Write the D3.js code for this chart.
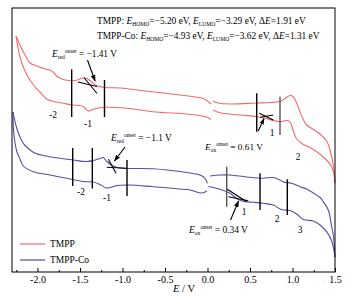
<!DOCTYPE html>
<html><head><meta charset="utf-8">
<script src="https://cdn.jsdelivr.net/npm/d3@7"></script>
<style>body{margin:0;background:#fff}svg{display:block}text{font-family:"Liberation Serif","Times New Roman",serif}</style>
</head><body><svg id="c" width="359" height="303"></svg>
<script>
// ---- data: potential E (V), current (arbitrary units) ----
const tmppRedUpper = [[-2.253,15.4],[-2.206,14.5],[-2.147,13.5],[-2.088,12.7],[-2.009,12.4],[-1.912,12.1],[-1.853,12.0],[-1.818,11.8],[-1.759,11.3],[-1.676,11.0],[-1.559,10.95],[-1.465,11.2],[-1.418,11.15],[-1.371,10.85],[-1.304,10.45],[-1.206,10.25],[-1.029,10.2],[-0.676,9.85],[-0.324,9.5],[-0.147,9.3],[-0.053,9.15],[-0.006,8.95],[0.038,8.6]];
const tmppRedLower = [[-2.253,15.4],[-2.229,14.2],[-2.206,13.3],[-2.167,12.3],[-2.124,11.5],[-2.088,11.0],[-2.029,10.3],[-1.971,9.8],[-1.892,9.1],[-1.814,8.85],[-1.696,8.67],[-1.579,8.5],[-1.5,8.45],[-1.453,8.3],[-1.406,7.9],[-1.344,8.07],[-1.265,8.22],[-1.186,8.27],[-0.951,8.17],[-0.641,7.83],[-0.245,7.6],[-0.088,7.45],[-0.009,7.3],[0.038,7.05]];
const tmppOxUpper = [[0.065,8.9],[0.124,8.7],[0.265,8.6],[0.579,8.7],[0.735,8.75],[0.853,8.85],[0.912,9.15],[0.971,9.45],[1.006,9.35],[1.049,8.7],[1.088,7.8],[1.124,7.1],[1.167,6.5],[1.245,6.05],[1.324,5.6],[1.402,4.9],[1.441,4.0],[1.476,2.7],[1.494,1.5],[1.5,0.7]];
const tmppOxLower = [[0.065,8.0],[0.147,7.73],[0.382,7.5],[0.579,7.33],[0.676,7.17],[0.853,6.83],[0.932,6.95],[0.971,6.8],[1.01,5.9],[1.049,5.1],[1.127,4.55],[1.206,4.25],[1.285,3.83],[1.362,3.3],[1.441,2.6],[1.48,1.9],[1.5,0.7]];
const coRedUpper = [[-2.288,7.8],[-2.245,6.2],[-2.206,5.3],[-2.167,4.67],[-2.088,4.0],[-2.018,3.65],[-1.932,3.45],[-1.735,3.17],[-1.579,3.0],[-1.421,2.85],[-1.344,2.95],[-1.265,3.15],[-1.226,3.25],[-1.186,2.85],[-1.108,2.4],[-1.029,2.2],[-0.912,2.15],[-0.641,2.12],[-0.324,1.85],[-0.206,1.7],[-0.088,1.5],[-0.029,1.17],[-0.002,0.67]];
const coRedLower = [[-2.288,7.8],[-2.282,6.0],[-2.245,3.9],[-2.206,3.1],[-2.167,2.4],[-2.049,1.83],[-1.853,1.5],[-1.656,1.17],[-1.461,0.85],[-1.344,0.8],[-1.265,0.55],[-1.194,0.2],[-1.147,0.25],[-1.068,0.45],[-0.912,0.5],[-0.641,0.33],[-0.324,0.1],[-0.206,0.0],[-0.067,-0.3],[-0.006,-0.1]];
const coOxUpper = [[0.029,1.4],[0.147,1.5],[0.265,1.5],[0.461,1.3],[0.653,1.17],[0.774,1.25],[0.853,1.0],[0.892,0.8],[0.99,0.67],[1.088,0.33],[1.167,0.1],[1.245,-0.3],[1.324,-0.75],[1.362,-1.17],[1.421,-2.0],[1.461,-3.67],[1.48,-4.5],[1.5,-6.7]];
const coOxLower = [[0.009,0.35],[0.147,0.07],[0.265,-0.33],[0.362,-0.95],[0.441,-1.17],[0.539,-1.23],[0.657,-1.33],[0.774,-1.5],[0.853,-1.9],[0.892,-2.0],[0.971,-2.05],[1.049,-2.4],[1.127,-2.95],[1.245,-3.1],[1.324,-3.5],[1.402,-4.17],[1.461,-5.1],[1.482,-5.8],[1.5,-6.7]];
// marker lines [E, i1, i2, grey?]
const tmppMarkers = [[-1.598,12.07,7.3,0],[-1.212,11.0,7.3,0],[0.579,9.67,5.83,0],[0.853,9.33,5.5,1]];
const coMarkers = [[-1.586,4.2,0.4,0],[-1.355,4.2,0.15,0],[-0.947,3.0,-0.6,0],[0.226,2.33,-1.67,1],[0.618,1.67,-2.0,0],[0.939,1.07,-2.5,0]];
// tangent lines [[E1,i1],[E2,i2]]
const tangents = [
  [[-1.524,10.8],[-1.3,10.35]],[[-1.453,11.25],[-1.3,9.65]],
  [[0.609,7.67],[0.774,7.0]],[[0.618,7.27],[0.774,7.5]],
  [[-1.167,3.07],[-1.076,1.67]],[[-1.186,2.27],[-0.951,2.17]],
  [[0.233,0.07],[0.461,-1.17]],[[0.245,-0.67],[0.48,-1.07]]
];
const arrows = [[[-1.412,13.0],[-1.323,10.9]],[[0.597,5.9],[0.665,7.15]],[[-0.971,4.3],[-1.094,2.9]],[[0.271,-3.0],[0.365,-1.1]]];
const xTicks = [-2.0,-1.5,-1.0,-0.5,0.0,0.5,1.0,1.5];
const xMinor = [-2.25,-1.75,-1.25,-0.75,-0.25,0.25,0.75,1.25];
const seriesNames = ["TMPP","TMPP-Co"];
const colors = ["#f26b6b","#5b4aa8"];

const svg = d3.select("#c");
const L=12,T=8,R=335,B=272;
const x = d3.scaleLinear().domain([-2.30,1.5]).range([L,R]);
const y = d3.scaleLinear().domain([-8.2,18.2]).range([B,T]);
const line = d3.line().x(d=>x(d[0])).y(d=>y(d[1])).curve(d3.curveCatmullRom.alpha(0.5));

// curves
[[tmppRedUpper,0],[tmppRedLower,0],[tmppOxUpper,0],[tmppOxLower,0],[coRedUpper,1],[coRedLower,1],[coOxUpper,1],[coOxLower,1]].forEach(([d,k])=>{
  svg.append("path").attr("d",line(d)).attr("fill","none").attr("stroke",colors[k]).attr("stroke-width",1.1);
});

// markers
tmppMarkers.concat(coMarkers).forEach(m=>{
  svg.append("line").attr("x1",x(m[0])).attr("x2",x(m[0])).attr("y1",y(m[1])).attr("y2",y(m[2]))
    .attr("stroke",m[3]?"#555":"#000").attr("stroke-width",1.4);
});
tangents.forEach(t=>{
  svg.append("line").attr("x1",x(t[0][0])).attr("y1",y(t[0][1])).attr("x2",x(t[1][0])).attr("y2",y(t[1][1]))
    .attr("stroke","#000").attr("stroke-width",1.1);
});
svg.append("defs").append("marker").attr("id","ah").attr("viewBox","0 0 10 10").attr("refX",9).attr("refY",5)
  .attr("markerWidth",6).attr("markerHeight",6).attr("orient","auto")
  .append("path").attr("d","M0,1.5L10,5L0,8.5Z").attr("fill","#000");
arrows.forEach(a=>{
  svg.append("line").attr("x1",x(a[0][0])).attr("y1",y(a[0][1])).attr("x2",x(a[1][0])).attr("y2",y(a[1][1]))
    .attr("stroke","#000").attr("stroke-width",1.1).attr("marker-end","url(#ah)");
});

// frame
svg.append("rect").attr("x",L).attr("y",T).attr("width",R-L).attr("height",B-T).attr("fill","none").attr("stroke","#000").attr("stroke-width",1);

// axis
const ax = svg.append("g").attr("transform",`translate(0,${B})`)
  .call(d3.axisBottom(x).tickValues(xTicks).tickSizeInner(-4).tickSizeOuter(0).tickPadding(3).tickFormat(d3.format(".1f")));
ax.select(".domain").remove();
ax.selectAll("text").attr("font-size",10).attr("font-family","Liberation Serif").attr("dy","0.75em").text(d=>d3.format(".1f")(d).replace("−","-"));
svg.append("g").attr("transform",`translate(0,${B})`).call(d3.axisBottom(x).tickValues(xMinor).tickSizeInner(-2).tickSizeOuter(0).tickFormat(""))
  .select(".domain").remove();
const tt = svg.append("text").attr("x",184).attr("y",292).attr("text-anchor","middle").attr("font-size",10.5);
tt.append("tspan").attr("font-style","italic").text("E");
tt.append("tspan").text(" / V");

// rich text: parts [text, relSize, dy(rel), italic]
function rich(px, yb, parts, base, target){
  function build(s){
    const t = svg.append("text").attr("x",px).attr("y",yb).attr("font-size",s);
    parts.forEach(p=>{
      const ts = t.append("tspan").attr("font-size",s*p[1]).text(p[0]);
      if(p[2]) ts.attr("dy",p[2]*s);
      if(p[3]) ts.attr("font-style","italic");
    });
    return t;
  }
  let t = build(base);
  const w = t.node().getComputedTextLength();
  if(target && w>0){ t.remove(); t = build(base*target/w); }
  return t;
}
function headerParts(label,h,l,de){
  return [[label+": ",1,0,0],["E",1,0,1],["HOMO",0.6,0.2,0],["=−"+h+" eV, ",1,-0.2,0],["E",1,0,1],["LUMO",0.6,0.2,0],["=−"+l+" eV, Δ",1,-0.2,0],["E",1,0,1],["="+de+" eV",1,0,0]];
}
rich(97,24,headerParts("TMPP","5.20","3.29","1.91"),10,209);
rich(97,39,headerParts("TMPP-Co","4.93","3.62","1.31"),10,223);

function onsetParts(sub,val){
  return [["E",1,0,1],[sub,0.6,0.2,0],["onset",0.6,-0.65,0],[" = "+val+" V",1,0.45,0]];
}
rich(52,57,onsetParts("red","−1.41"),10,65);
rich(111,141,onsetParts("red","−1.1"),10,61);
rich(205,150,onsetParts("ox","0.61"),10,58);
rich(189,233,onsetParts("ox","0.34"),10,59);

// peak labels
const peakLabels = [["-2",53,115],["-1",88,124],["1",272,133],["2",298,157],["-2",81,191.5],["-1",107,198],["1",244,212],["2",277,219],["3",300,230]];
peakLabels.forEach(p=>svg.append("text").attr("x",p[1]).attr("y",p[2]).attr("dy","0.35em").attr("text-anchor","middle").attr("font-size",9.5).text(p[0]));

// legend
seriesNames.forEach((n,i)=>{
  const yy = 244+i*16;
  svg.append("line").attr("x1",20).attr("x2",45).attr("y1",yy).attr("y2",yy).attr("stroke",colors[i]).attr("stroke-width",1.2);
  svg.append("text").attr("x",50).attr("y",yy).attr("dy","0.35em").attr("font-size",9.5).text(n);
});
</script></body></html>
